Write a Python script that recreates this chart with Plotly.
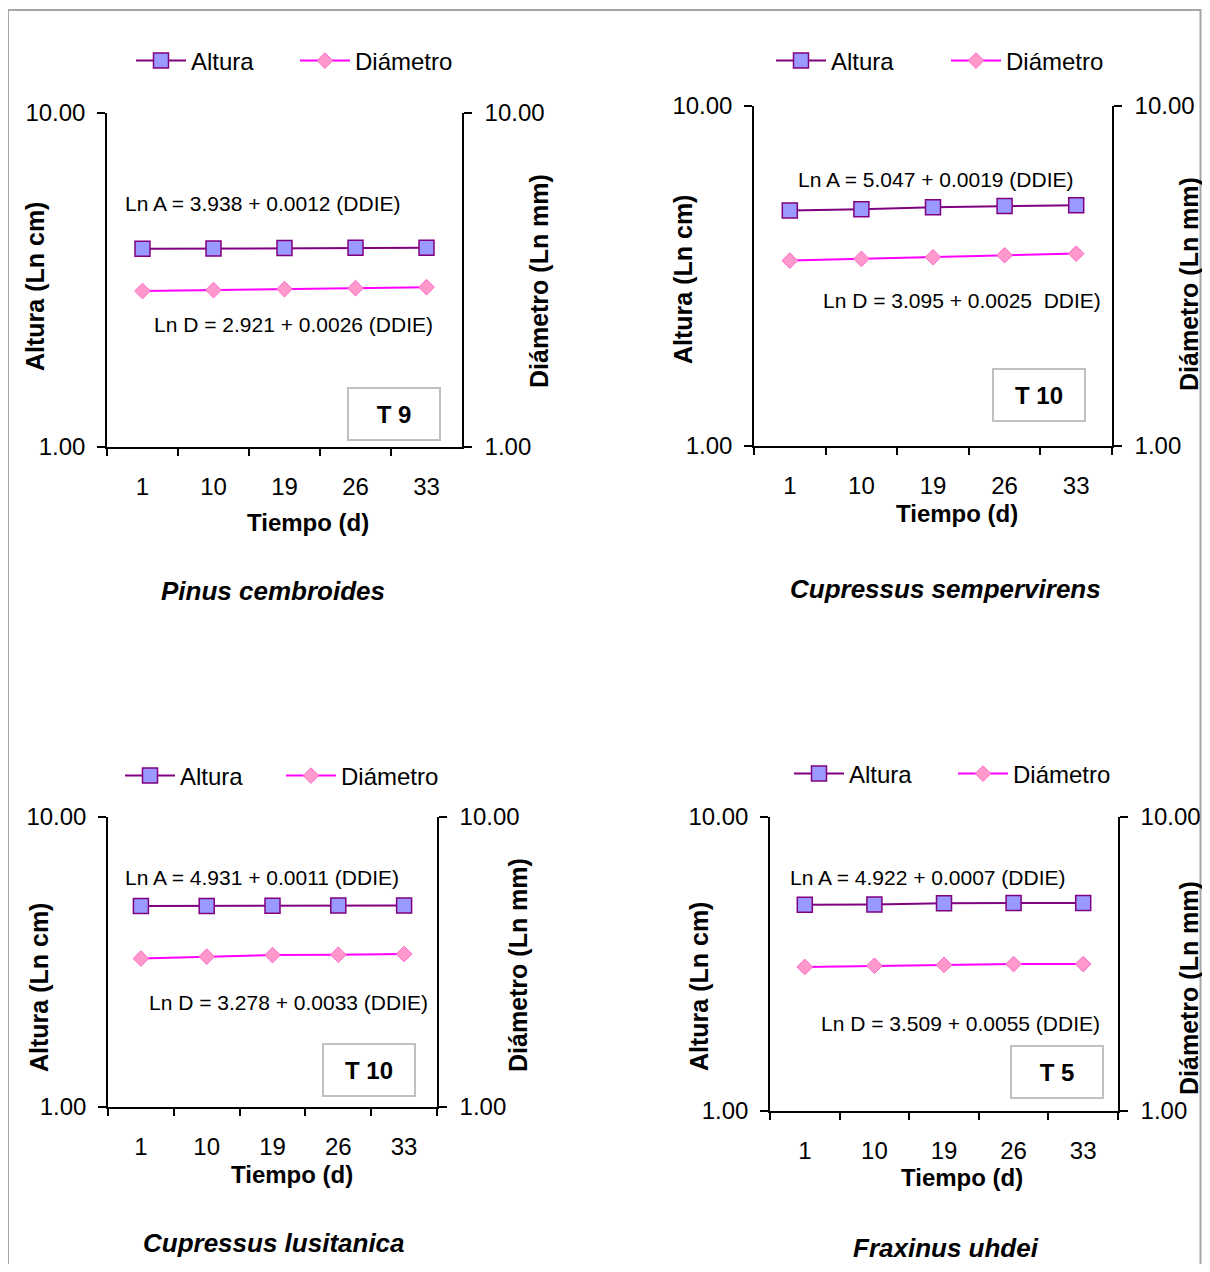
import plotly.graph_objects as go

# ---------------- data ----------------
tiempo = ["1", "10", "19", "26", "33"]

species = ["Pinus cembroides", "Cupressus sempervirens", "Cupressus lusitanica", "Fraxinus uhdei"]
tratamientos = ["T 9", "T 10", "T 10", "T 5"]

altura_pinus = [3.92, 3.93, 3.94, 3.95, 3.95]
diametro_pinus = [2.93, 2.95, 2.97, 2.99, 3.01]

altura_sempervirens = [4.93, 4.97, 5.04, 5.08, 5.11]
diametro_sempervirens = [3.51, 3.55, 3.59, 3.64, 3.68]

altura_lusitanica = [4.93, 4.93, 4.94, 4.95, 4.95]
diametro_lusitanica = [3.25, 3.30, 3.34, 3.35, 3.37]

altura_fraxinus = [5.03, 5.04, 5.09, 5.10, 5.10]
diametro_fraxinus = [3.09, 3.12, 3.14, 3.16, 3.16]

ecuacion_altura = [
    "Ln A = 3.938 + 0.0012 (DDIE)",
    "Ln A = 5.047 + 0.0019 (DDIE)",
    "Ln A = 4.931 + 0.0011 (DDIE)",
    "Ln A = 4.922 + 0.0007 (DDIE)",
]
ecuacion_diametro = [
    "Ln D = 2.921 + 0.0026 (DDIE)",
    "Ln D = 3.095 + 0.0025  DDIE)",
    "Ln D = 3.278 + 0.0033 (DDIE)",
    "Ln D = 3.509 + 0.0055 (DDIE)",
]

y_tick_vals = [1, 10]
y_tick_text = ["1.00", "10.00"]

alturas = [altura_pinus, altura_sempervirens, altura_lusitanica, altura_fraxinus]
diametros = [diametro_pinus, diametro_sempervirens, diametro_lusitanica, diametro_fraxinus]

# ---------------- layout geometry (pixels of the page) ----------------
PAGE_W, PAGE_H = 1210, 1272
BODY = 8  # default page margin around the figure
W, H = PAGE_W - 2 * BODY, PAGE_H - 2 * BODY
FONT = "Liberation Sans, Arial, sans-serif"


def px(x):
    return (x - BODY) / W


def py(y):
    return 1 - (y - BODY) / H


panels = [
    dict(plot=(107, 462, 113, 447), eqA=(123, 204), eqD=(152, 324), box=(393.5, 413.5),
         xt=(308, 522), yl=(35, 287), yr=(539, 281), sp=(273, 591), leg=(131, 61), entry=99),
    dict(plot=(754, 1112, 106, 446), eqA=(796, 180), eqD=(821, 300), box=(1039, 395),
         xt=(957, 514), yl=(683, 279), yr=(1189, 284), sp=(945, 589), leg=(771, 61), entry=110),
    dict(plot=(108, 437, 817, 1107), eqA=(123, 877), eqD=(147, 1002), box=(368.5, 1070),
         xt=(292, 1174), yl=(39, 988), yr=(518, 965), sp=(274, 1243), leg=(120, 776), entry=96),
    dict(plot=(770, 1118, 817, 1111), eqA=(788, 877), eqD=(819, 1023), box=(1056.5, 1072),
         xt=(962, 1177), yl=(699, 987), yr=(1189, 988), sp=(946, 1248), leg=(789, 774), entry=99),
]

fig = go.Figure()
annotations = []
shapes = []
layout_axes = {}

boundaries = [i - 0.5 for i in range(len(tiempo) + 1)]

for i, p in enumerate(panels):
    n = i + 1
    xa = "x" if n == 1 else f"x{n}"
    ya = "y" if n == 1 else f"y{n}"
    yr_name = f"y{n + 4}"
    leg = "legend" if n == 1 else f"legend{n}"

    fig.add_trace(go.Scatter(
        x=tiempo, y=alturas[i], name="Altura", mode="lines+markers",
        xaxis=xa, yaxis=ya, legend=leg,
        line=dict(color="#800080", width=2),
        marker=dict(symbol="square", size=15, color="#9999FF", line=dict(color="#800080", width=1.5)),
    ))
    fig.add_trace(go.Scatter(
        x=tiempo, y=diametros[i], name="Diámetro", mode="lines+markers",
        xaxis=xa, yaxis=yr_name, legend=leg,
        line=dict(color="#FF00FF", width=2),
        marker=dict(symbol="diamond", size=12, color="#FF99CC", line=dict(color="#FF66CC", width=1)),
    ))

    x0, x1, y0, y1 = p["plot"]
    xdom = [px(x0), px(x1)]
    ydom = [py(y1), py(y0)]
    xkey = "xaxis" if n == 1 else f"xaxis{n}"
    ykey = "yaxis" if n == 1 else f"yaxis{n}"

    layout_axes[xkey] = dict(
        domain=xdom, anchor=ya, type="category", range=[-0.5, len(tiempo) - 0.5],
        tickson="boundaries", ticks="outside", ticklen=7, tickwidth=1.5, tickcolor="#000",
        showline=True, linecolor="#000", linewidth=1.5, showgrid=False, zeroline=False,
        tickfont=dict(family=FONT, size=24, color="#000"), ticklabelstandoff=17,
    )
    # overlay axis providing the inner half of the crossing ticks
    layout_axes[f"xaxis{n + 4}"] = dict(
        domain=xdom, anchor=ya, overlaying=xa, type="linear",
        range=[-0.5, len(tiempo) - 0.5], tickmode="array", tickvals=boundaries,
        ticks="inside", ticklen=7, tickwidth=1.5, tickcolor="#000",
        showticklabels=False, showline=False, showgrid=False, zeroline=False,
    )
    yaxis_common = dict(
        type="log", range=[0, 1], tickmode="array", tickvals=y_tick_vals, ticktext=y_tick_text,
        ticks="outside", ticklen=8, tickwidth=1.5, tickcolor="#000",
        showline=True, linecolor="#000", linewidth=1.5, showgrid=False, zeroline=False,
        tickfont=dict(family=FONT, size=24, color="#000"),
    )
    layout_axes[ykey] = dict(domain=ydom, anchor=xa, side="left", ticklabelstandoff=7, **yaxis_common)
    layout_axes[f"yaxis{n + 4}"] = dict(domain=ydom, anchor=xa, side="right", overlaying=ya,
                                        ticklabelstandoff=8, **yaxis_common)

    layout_axes[leg] = dict(
        orientation="h", x=px(p["leg"][0]), y=py(p["leg"][1]), xanchor="left", yanchor="middle",
        font=dict(family=FONT, size=24, color="#000"), bgcolor="rgba(0,0,0,0)",
        itemwidth=50, entrywidth=p["entry"], entrywidthmode="pixels", tracegroupgap=0,
    )

    # text annotations
    annotations.append(dict(x=px(p["eqA"][0]), y=py(p["eqA"][1]), xref="paper", yref="paper",
                            text=ecuacion_altura[i], showarrow=False, xanchor="left", yanchor="middle",
                            font=dict(family=FONT, size=21, color="#000")))
    annotations.append(dict(x=px(p["eqD"][0]), y=py(p["eqD"][1]), xref="paper", yref="paper",
                            text=ecuacion_diametro[i], showarrow=False, xanchor="left", yanchor="middle",
                            font=dict(family=FONT, size=21, color="#000")))
    annotations.append(dict(x=px(p["box"][0]), y=py(p["box"][1]), xref="paper", yref="paper",
                            text=f"<b>{tratamientos[i]}</b>", showarrow=False, xanchor="center", yanchor="middle",
                            width=88, height=48, borderpad=1, bordercolor="#BFBFBF", borderwidth=2,
                            bgcolor="#FFFFFF", font=dict(family=FONT, size=24, color="#000")))
    annotations.append(dict(x=px(p["xt"][0]), y=py(p["xt"][1]), xref="paper", yref="paper",
                            text="<b>Tiempo (d)</b>", showarrow=False, xanchor="center", yanchor="middle",
                            font=dict(family=FONT, size=24, color="#000")))
    annotations.append(dict(x=px(p["yl"][0]), y=py(p["yl"][1]), xref="paper", yref="paper",
                            text="<b>Altura (Ln cm)</b>", showarrow=False, textangle=-90,
                            xanchor="center", yanchor="middle",
                            font=dict(family=FONT, size=25, color="#000")))
    annotations.append(dict(x=px(p["yr"][0]), y=py(p["yr"][1]), xref="paper", yref="paper",
                            text="<b>Diámetro (Ln mm)</b>", showarrow=False, textangle=-90,
                            xanchor="center", yanchor="middle",
                            font=dict(family=FONT, size=25, color="#000")))
    annotations.append(dict(x=px(p["sp"][0]), y=py(p["sp"][1]), xref="paper", yref="paper",
                            text=f"<b><i>{species[i]}</i></b>", showarrow=False,
                            xanchor="center", yanchor="middle",
                            font=dict(family=FONT, size=26, color="#000")))

# outer frame (right edge kept just inside the visible figure area)
shapes.append(dict(type="rect", xref="paper", yref="paper", x0=px(8), x1=px(1200.5), y0=py(1290), y1=py(10),
                   line=dict(color="#A6A6A6", width=2), fillcolor="rgba(0,0,0,0)", layer="below"))

fig.update_layout(
    width=W, height=H, margin=dict(l=0, r=0, t=0, b=0, autoexpand=False),
    paper_bgcolor="#FFFFFF", plot_bgcolor="rgba(0,0,0,0)",
    showlegend=True, annotations=annotations, shapes=shapes,
    font=dict(family=FONT, color="#000"),
    **layout_axes,
)

fig.write_html("out.html")
